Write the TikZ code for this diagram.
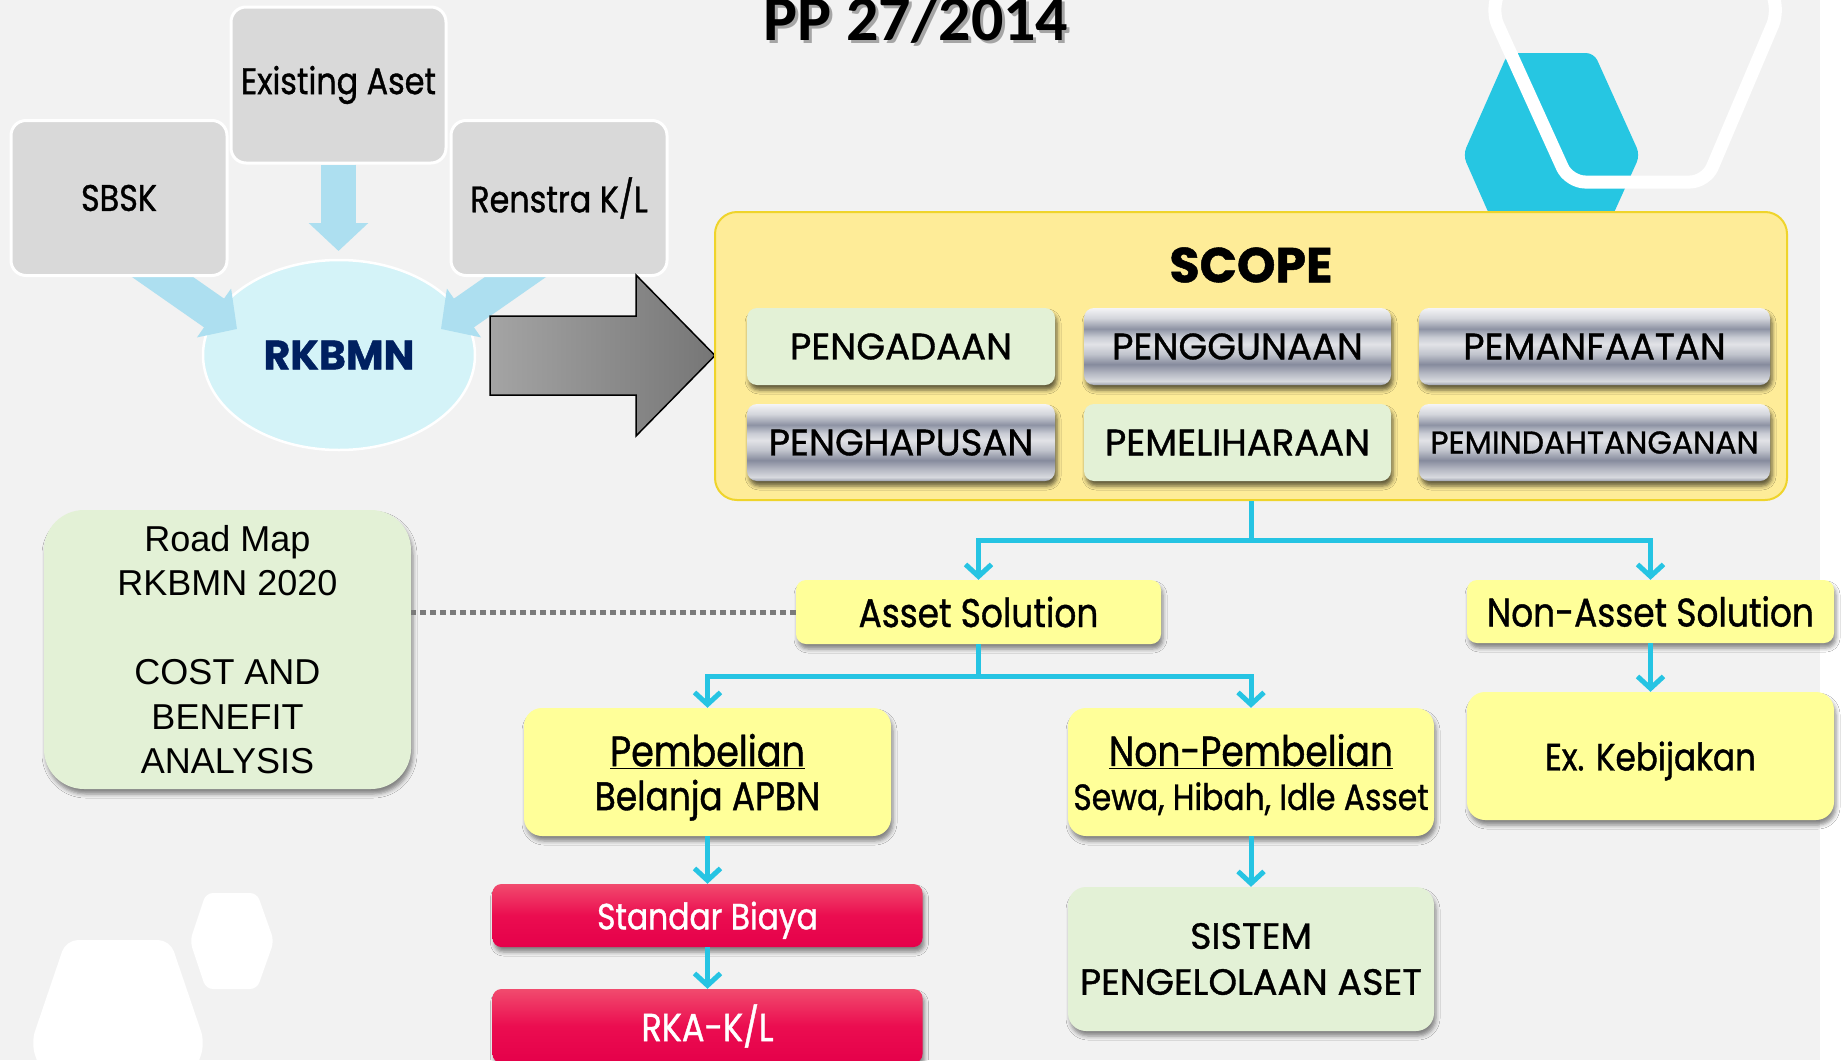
\documentclass[tikz,border=0pt]{standalone}
\usepackage{fontspec}
\usetikzlibrary{arrows.meta,shapes.geometric,shadows.blur}
\setmainfont{Poppins}
\newfontfamily\twc[FakeStretch=0.86,FakeBold=1]{Poppins}
\newfontfamily\twn[FakeStretch=1.0,FakeBold=1]{Poppins}
\newfontfamily\arl{Liberation Sans}
\newfontfamily\ppfont{Carlito}

\definecolor{bgc}{HTML}{F2F2F2}
\definecolor{gboxc}{HTML}{D9D9D9}
\definecolor{elc}{HTML}{D4F3F8}
\definecolor{lbac}{HTML}{ADDFF0}
\definecolor{navyc}{HTML}{002060}
\definecolor{scopeF}{HTML}{FEEC98}
\definecolor{scopeD}{HTML}{EFD42B}
\definecolor{grnc}{HTML}{E3F1D6}
\definecolor{yelc}{HTML}{FFFF99}
\definecolor{connc}{HTML}{26C4E3}
\definecolor{cyanc}{HTML}{26C6E2}
\definecolor{crTop}{HTML}{F14B6E}
\definecolor{crMid}{HTML}{EB0D50}
\definecolor{crBot}{HTML}{E5004A}
\definecolor{garL}{HTML}{A4A4A4}
\definecolor{garR}{HTML}{767676}
\definecolor{dotc}{HTML}{7A7A7A}
% metallic band colours, bottom to top
\definecolor{mtA}{HTML}{9DA1AE}
\definecolor{mtB}{HTML}{D8DADF}
\definecolor{mtC}{HTML}{B3B6C1}
\definecolor{mtD}{HTML}{868B9D}
\definecolor{mtE}{HTML}{C0C3CC}
\definecolor{mtF}{HTML}{E2E3E7}
\definecolor{mtG}{HTML}{C9CCD4}
\definecolor{mtH}{HTML}{8E93A4}
\definecolor{mtI}{HTML}{D4D6DC}
\definecolor{mtJ}{HTML}{F4F4F6}

\pgfdeclareverticalshading{metal}{100bp}{color(0bp)=(mtA); color(25bp)=(mtA);
  color(27.5bp)=(mtB); color(33bp)=(mtC); color(38.5bp)=(mtD); color(45bp)=(mtE);
  color(51.5bp)=(mtF); color(56bp)=(mtG); color(61.5bp)=(mtH); color(68.5bp)=(mtI);
  color(75bp)=(mtJ); color(100bp)=(mtJ)}

\begin{document}
\begin{tikzpicture}[x=1pt,y=-1pt,
  shd/.style={blur shadow={shadow xshift=2pt, shadow yshift=-5pt, shadow blur radius=4pt, shadow opacity=45}},
  shdk/.style={blur shadow={shadow xshift=2pt, shadow yshift=-5pt, shadow blur radius=4pt, shadow opacity=60}},
  gbox/.style={rectangle, rounded corners=15pt, fill=gboxc, draw=white, line width=3pt, inner sep=0pt,
    minimum width=216pt, minimum height=155pt, font=\twc\fontsize{37}{40}\selectfont},
  ybox/.style={rectangle, rounded corners=10pt, fill=yelc, inner sep=0pt, align=center, shd,
    font=\twc\fontsize{40}{44}\selectfont},
  gnbox/.style={rectangle, rounded corners=18pt, fill=grnc, inner sep=0pt, align=center, shd},
  tile/.style={rectangle, rounded corners=10pt, inner sep=0pt, minimum height=77pt, shdk,
    font=\twn\fontsize{37}{40}\selectfont},
  metalbox/.style={tile, shade, shading=metal},
  greentile/.style={tile, fill=grnc},
  redbox/.style={rectangle, rounded corners=9pt, top color=crTop, bottom color=crBot, middle color=crMid,
    inner sep=0pt, minimum width=430pt, text=white, shd},
  conn/.style={draw=connc, line width=5pt, -{Straight Barb[length=12pt,width=26pt]}},
  barrow/.style={draw=lbac, line width=35pt, -{Triangle[length=28pt,width=58pt]}},
]
\useasboundingbox (0,0) rectangle (1841,1060);
% page ground
\fill[bgc] (0,0) rectangle (1841,1060);
\fill[white] (1820,0) rectangle (1841,1060);

% decorative hexagons
\fill[cyanc, rounded corners=8pt] (1508,53) -- (1594,53) -- (1640,155) -- (1594,257) -- (1508,257) -- (1463,155) -- cycle;
\draw[white, line width=13pt, rounded corners=16pt] (1569,182) -- (1706,182) -- (1779,10) -- (1706,-162) -- (1569,-162) -- (1491,10) -- cycle;
\fill[white, rounded corners=7pt] (206,893) -- (257,893) -- (274,941) -- (257,989) -- (206,989) -- (190,941) -- cycle;
\fill[white, rounded corners=12pt] (66,940) -- (170,940) -- (205,1043) -- (170,1146) -- (66,1146) -- (31,1043) -- cycle;

% planning inputs
\node[ellipse, minimum width=272pt, minimum height=190pt, inner sep=0pt, fill=elc, draw=white, line width=2.5pt,
  text=navyc, font=\twn\bfseries\fontsize{41}{48}\selectfont] (rkbmn) at (339,355) {RKBMN};
\coordinate (sbskfoot) at (131,255);
\coordinate (leftin) at (237,329);
\coordinate (renfoot) at (547,255);
\coordinate (rightin) at (441,329);
\draw[barrow] (sbskfoot) -- (leftin);
\draw[barrow] (renfoot) -- (rightin);
\node[gbox] (sbsk) at (119,198) {SBSK};
\node[gbox, minimum width=215pt, minimum height=156pt] (exist) at (338.5,85) {Existing Aset};
\node[gbox] (renstra) at (559,198) {Renstra K/L};
\coordinate (topin) at (338.5,251);
\draw[barrow] (exist.south) -- (topin);

% block arrow into the scope panel
\draw[left color=garL, right color=garR, draw=black, line width=1.5pt]
  (490,316) -- (636,316) -- (636,275) -- (715,355.5) -- (636,436) -- (636,395) -- (490,395) -- cycle;

% scope panel
\node[rectangle, rounded corners=22pt, fill=scopeF, draw=scopeD, line width=2pt, minimum width=1072pt,
  minimum height=288pt, inner sep=0pt] (scope) at (1251,356) {};
\node[font=\twn\bfseries\fontsize{49}{55}\selectfont] (scopetitle) at (1251,265) {SCOPE};
\node[greentile, minimum width=308pt] (pengadaan) at (901,346.5) {PENGADAAN};
\node[metalbox, minimum width=307pt] (penggunaan) at (1237.5,346.5) {PENGGUNAAN};
\node[metalbox, minimum width=351pt] (pemanfaatan) at (1594.5,346.5) {PEMANFAATAN};
\node[metalbox, minimum width=308pt] (penghapusan) at (901,442.5) {PENGHAPUSAN};
\node[greentile, minimum width=307pt] (pemeliharaan) at (1237.5,442.5) {PEMELIHARAAN};
\node[metalbox, minimum width=351pt, font=\twn\fontsize{31.5}{34}\selectfont] (pemindah) at (1594.5,442.5) {PEMINDAHTANGANAN};

% solutions
\node[ybox, minimum width=365pt, minimum height=64pt] (asset) at (978.5,612) {Asset Solution};
\node[ybox, minimum width=367pt, minimum height=63pt] (nonasset) at (1650.5,611.5) {Non-Asset Solution};
\node[ybox, rounded corners=18pt, minimum width=367pt, minimum height=128pt, text depth=0pt] (pembelian) at (707.5,772)
  {{\fontsize{42.5}{48}\selectfont\underline{Pembelian}}\\{\fontsize{40}{44}\selectfont Belanja APBN}};
\node[ybox, rounded corners=18pt, minimum width=366pt, minimum height=128pt, text depth=0pt] (nonpembelian) at (1251,772)
  {{\fontsize{42}{48}\selectfont\underline{Non-Pembelian}}\\{\fontsize{36.5}{42}\selectfont Sewa, Hibah, Idle Asset}};
\node[ybox, rounded corners=18pt, minimum width=367pt, minimum height=128pt, text depth=0pt,
  font=\twc\fontsize{38}{40}\selectfont] (exkeb) at (1650.5,756) {Ex. Kebijakan};
\node[gnbox, minimum width=366pt, minimum height=144pt, font=\twn\fontsize{36.5}{46}\selectfont] (sistem) at (1251,959)
  {SISTEM\\PENGELOLAAN ASET};
\node[redbox, minimum height=63pt, text depth=0pt, font=\twc\fontsize{36.5}{40}\selectfont] (standar) at (707.5,915.5) {Standar Biaya};
\node[redbox, minimum height=74pt, font=\twc\fontsize{39}{40}\selectfont] (rka) at (707.5,1026) {RKA-K/L};
\node[gnbox, rounded corners=40pt, minimum width=367pt, minimum height=279pt, font=\arl\fontsize{36}{44.5}\selectfont]
  (roadmap) at (227.5,649.5) {Road Map\\RKBMN 2020\\[44.5pt]COST AND\\BENEFIT\\ANALYSIS};

% connectors
\draw[conn] (scope.south) -- ++(0,39) -| (asset.north);
\draw[conn] (scope.south) -- ++(0,39) -| (nonasset.north);
\draw[conn] (asset.south) -- ++(0,32) -| (pembelian.north);
\draw[conn] (asset.south) -- ++(0,32) -| (nonpembelian.north);
\draw[conn] (nonasset.south) -- (exkeb.north);
\draw[conn] (pembelian.south) -- (standar.north);
\draw[conn] (standar.south) -- (rka.north);
\draw[conn] (nonpembelian.south) -- (sistem.north);
\draw[dotc, line width=5pt, dash pattern=on 6pt off 4pt] (asset.west) -- (asset.west -| roadmap.east);

% heading with its soft shadow
\node[anchor=base, text=black!60, opacity=0.55, font=\ppfont\bfseries\fontsize{64}{70}\selectfont] (titleshadow) at (919,43) {PP 27/2014};
\node[anchor=base, font=\ppfont\bfseries\fontsize{64}{70}\selectfont] (title) at (916,40) {PP 27/2014};
\end{tikzpicture}
\end{document}
